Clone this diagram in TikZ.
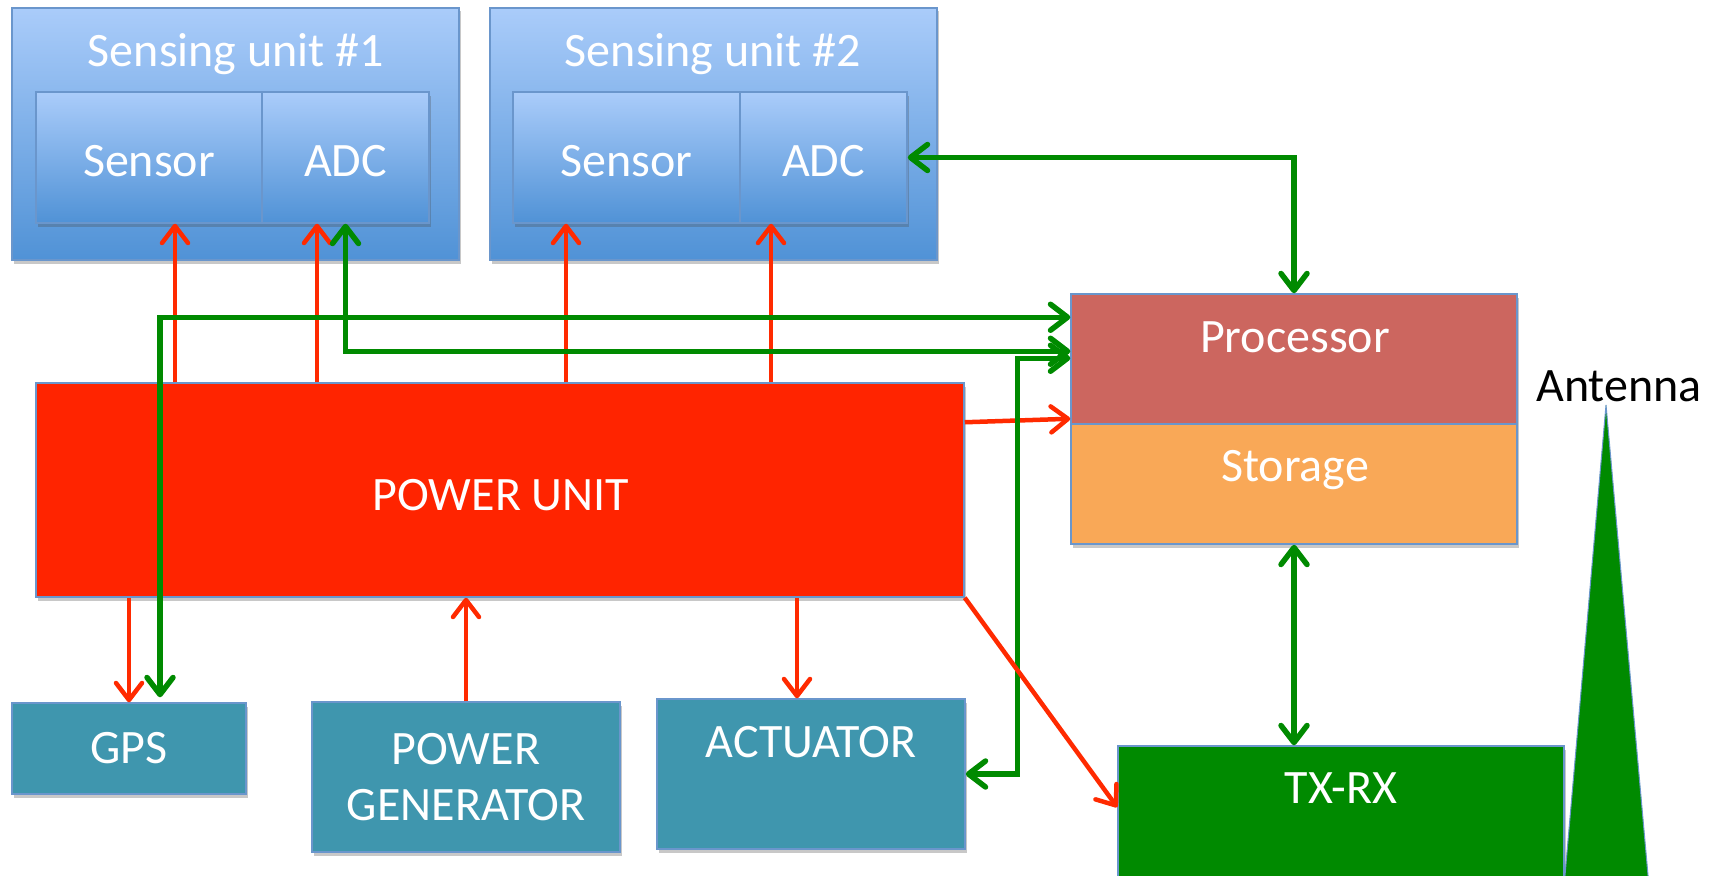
\documentclass[tikz,border=0pt]{standalone}
\usepackage{fontspec}
\setmainfont{Carlito}
\usetikzlibrary{arrows.meta,shadows}

\definecolor{frameblue}{RGB}{106,150,204}
\definecolor{skytop}{RGB}{170,204,250}
\definecolor{skybot}{RGB}{80,146,214}
\definecolor{wirered}{RGB}{255,42,0}
\definecolor{wiregreen}{RGB}{0,138,0}
\definecolor{powerred}{RGB}{255,36,0}
\definecolor{procred}{RGB}{204,102,95}
\definecolor{storeorange}{RGB}{249,168,87}
\definecolor{ioteal}{RGB}{63,150,174}
\definecolor{radiogreen}{RGB}{0,138,0}

\begin{document}
\begin{tikzpicture}[x=1pt,y=-1pt,
  unitbox/.style={rectangle, draw=frameblue, line width=1.5pt, inner sep=0pt,
    drop shadow={shadow xshift=1.5pt, shadow yshift=-3.5pt, opacity=0.3, fill=black!70}},
  skybox/.style={unitbox, top color=skytop, bottom color=skybot},
  words/.style={font=\fontsize{48}{56}\selectfont, text=white, inner sep=0pt},
  capline/.style={text height=30.5pt, text depth=0pt},
  lowcap/.style={text height=38.5pt, text depth=0pt},
  barb/.tip={Straight Barb[length=17pt,width=26pt,round]},
  redarr/.style={draw=wirered, line width=4.5pt, -barb},
  greenarr/.style={draw=wiregreen, line width=5.5pt, barb-barb},
]
\fill[white] (0,0) rectangle (1712,875);
\useasboundingbox (0,0) rectangle (1712,875);

% sensing units
\node[skybox, minimum width=447pt, minimum height=252pt] (su1) at (235.5,134) {};
\node[skybox, minimum width=447pt, minimum height=252pt] (su2) at (713.5,134) {};
\node[words, capline] (su1t) at (236,51) {Sensing unit \#1};
\node[words, capline] (su2t) at (713,51) {Sensing unit \#2};
\node[skybox, words, lowcap, minimum width=226pt, minimum height=131pt] (sen1) at (149,157.5) {Sensor};
\node[skybox, words, lowcap, minimum width=167pt, minimum height=131pt] (adc1) at (345.5,157.5) {ADC};
\node[skybox, words, lowcap, minimum width=227pt, minimum height=131pt] (sen2) at (626.5,157.5) {Sensor};
\node[skybox, words, lowcap, minimum width=167pt, minimum height=131pt] (adc2) at (823.5,157.5) {ADC};

% power unit
\node[unitbox, fill=powerred, minimum width=928pt, minimum height=214pt] (pu) at (500,490) {};
\node[words, capline] (put) at (501,495) {POWER UNIT};

% processor and storage
\node[unitbox, fill=procred, minimum width=446pt, minimum height=130pt] (proc) at (1294,359) {};
\node[unitbox, fill=storeorange, minimum width=446pt, minimum height=120pt] (stor) at (1294,484) {};
\node[words, capline] (proct) at (1295,337) {Processor};
\node[words, capline] (stort) at (1295,466) {Storage};

% peripherals
\node[unitbox, fill=ioteal, words, capline, minimum width=234pt, minimum height=91pt] (gps) at (129,748.5) {GPS};
\node[unitbox, fill=ioteal, words, align=center, minimum width=308pt, minimum height=150pt] (gen) at (466,777) {POWER\\GENERATOR};
\node[unitbox, fill=ioteal, minimum width=308pt, minimum height=150pt] (act) at (811,774) {};
\node[words, capline] (actt) at (811,742) {ACTUATOR};

% radio and antenna
\node[unitbox, fill=radiogreen, minimum width=446pt, minimum height=154pt] (tx) at (1341,823) {};
\node[words, capline] (txt) at (1341,788) {TX-RX};
\filldraw[fill=radiogreen, draw=frameblue, line width=1pt] (1563.7,890) -- (1606,405) -- (1649.3,890) -- cycle;
\node[words, capline, text=black] (antt) at (1619,386) {Antenna};

% power lines
\draw[redarr] ([xshift=26pt]sen1.south |- pu.north) -- ([xshift=26pt]sen1.south);
\draw[redarr] ([xshift=-28.5pt]adc1.south |- pu.north) -- ([xshift=-28.5pt]adc1.south);
\draw[redarr] ([xshift=-60.5pt]sen2.south |- pu.north) -- ([xshift=-60.5pt]sen2.south);
\draw[redarr] ([xshift=-52.5pt]adc2.south |- pu.north) -- ([xshift=-52.5pt]adc2.south);
\draw[redarr] ([yshift=-40pt]pu.north east) -- ([yshift=6pt]proc.south west);
\draw[redarr] (gps.north |- pu.south) -- (gps.north);
\draw[redarr] (gen.north) -- (gen.north |- pu.south);
\draw[redarr] ([xshift=-14pt]act.north |- pu.south) -- ([xshift=-14pt]act.north);

% data lines
\draw[greenarr] ([xshift=31pt,yshift=5pt]gps.north) |- ([yshift=-24pt]proc.north west);
\draw[greenarr] (adc1.south) |- ([yshift=-58pt]proc.north west);
\draw[greenarr] (act.east) -| ([xshift=-53pt,yshift=-65pt]proc.north west) -- ([yshift=-65pt]proc.north west);
\draw[greenarr] (adc2.east) -| (proc.north);
\draw[greenarr] (stor.south) -- (stor.south |- tx.north);

% power feed to the radio
\draw[redarr] (pu.south east) -- ([yshift=-62pt]tx.north west);
\end{tikzpicture}
\end{document}
